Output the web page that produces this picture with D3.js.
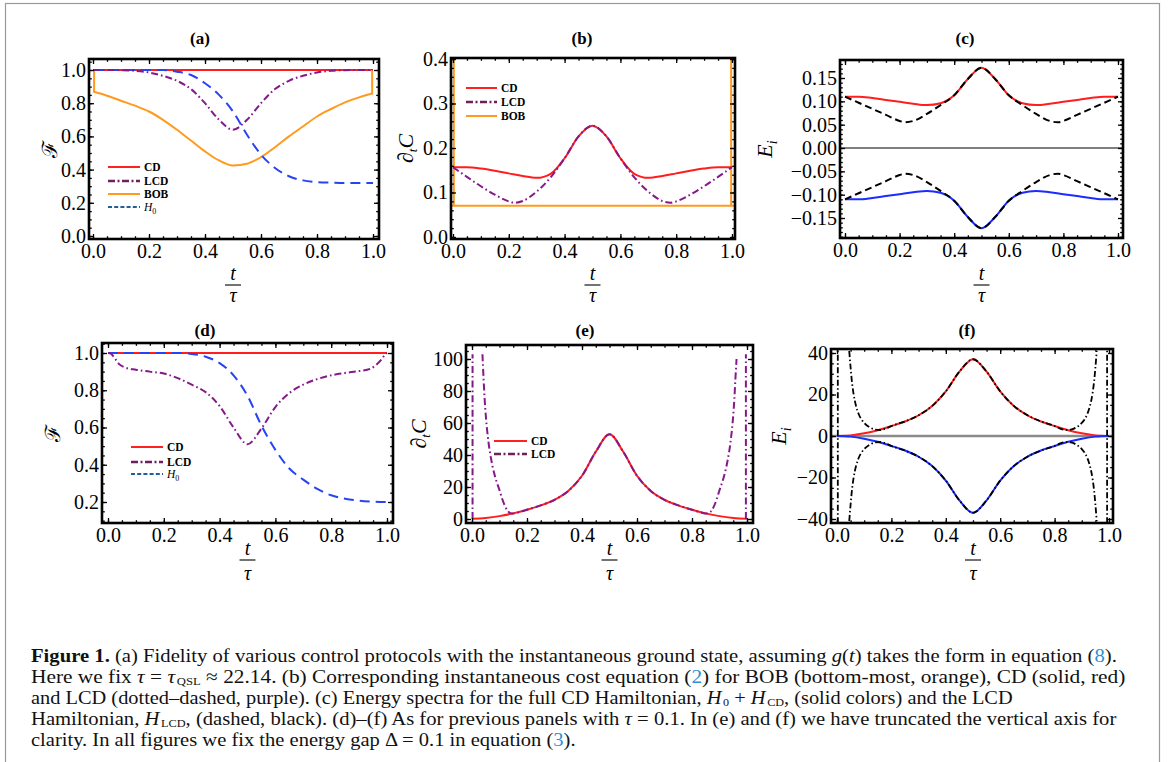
<!DOCTYPE html>
<html>
<head>
<meta charset="utf-8">
<script src="https://cdn.jsdelivr.net/npm/d3@7"></script>
<style>
body { margin: 0; background: #fff; }
svg { display: block; }
</style>
</head>
<body>
<div id="graphCanvas"></div>
<script>
var maxWidth = 1168;
var maxHeight = 762;

// sample times used by most curves (t / tau)
var tGrid = [0, 0.05, 0.1, 0.15, 0.2, 0.25, 0.3, 0.35, 0.4, 0.45, 0.5, 0.55, 0.6, 0.65, 0.7, 0.75, 0.8, 0.85, 0.9, 0.95, 1];

// (a) fidelity, tau = tau_QSL
var fidCD_a = [1, 1, 1, 1, 1, 1, 1, 1, 1, 1, 1, 1, 1, 1, 1, 1, 1, 1, 1, 1, 1];
var fidLCD_a = [1.0, 1.0, 0.999, 0.995, 0.985, 0.965, 0.935, 0.885, 0.80, 0.70, 0.64, 0.70, 0.80, 0.885, 0.935, 0.965, 0.985, 0.995, 0.999, 1.0, 1.0];
var fidBOB_a = [0.87, 0.845, 0.815, 0.785, 0.75, 0.70, 0.64, 0.575, 0.51, 0.455, 0.425, 0.435, 0.475, 0.535, 0.60, 0.66, 0.72, 0.765, 0.805, 0.835, 0.86];
var bobEdge_a = 1.0;
var fidH0_a = [1, 1, 1, 1, 1, 1.0, 0.99, 0.97, 0.92, 0.85, 0.75, 0.61, 0.49, 0.41, 0.36, 0.335, 0.325, 0.322, 0.32, 0.32, 0.32];

// (b) cost
var costCD_b = [0.157, 0.157, 0.154, 0.149, 0.143, 0.137, 0.133, 0.142, 0.177, 0.226, 0.25, 0.226, 0.177, 0.142, 0.133, 0.137, 0.143, 0.149, 0.154, 0.157, 0.157];
var tLCD_b = [0, 0.05, 0.1, 0.15, 0.2, 0.22, 0.25, 0.3, 0.35, 0.4, 0.45, 0.5, 0.55, 0.6, 0.65, 0.7, 0.75, 0.78, 0.8, 0.85, 0.9, 0.95, 1];
var costLCD_b = [0.157, 0.135, 0.114, 0.095, 0.080, 0.077, 0.081, 0.102, 0.134, 0.177, 0.226, 0.25, 0.226, 0.177, 0.134, 0.102, 0.081, 0.077, 0.080, 0.095, 0.114, 0.135, 0.157];
var costBOB_b = 0.07;
var bobEdge_b = 0.42;

// (c) spectra
var eCDup_c = [0.110, 0.110, 0.107, 0.103, 0.099, 0.095, 0.092, 0.096, 0.113, 0.148, 0.172, 0.148, 0.113, 0.096, 0.092, 0.095, 0.099, 0.103, 0.107, 0.110, 0.110];
var eCDdn_c = [-0.110, -0.110, -0.107, -0.103, -0.099, -0.095, -0.092, -0.096, -0.113, -0.148, -0.172, -0.148, -0.113, -0.096, -0.092, -0.095, -0.099, -0.103, -0.107, -0.110, -0.110];
var tLCD_c = [0, 0.05, 0.1, 0.15, 0.2, 0.22, 0.25, 0.3, 0.35, 0.4, 0.45, 0.5, 0.55, 0.6, 0.65, 0.7, 0.75, 0.78, 0.8, 0.85, 0.9, 0.95, 1];
var eLCDup_c = [0.110, 0.097, 0.084, 0.071, 0.058, 0.055, 0.058, 0.073, 0.092, 0.113, 0.148, 0.172, 0.148, 0.113, 0.092, 0.073, 0.058, 0.055, 0.058, 0.071, 0.084, 0.097, 0.110];
var eLCDdn_c = [-0.110, -0.097, -0.084, -0.071, -0.058, -0.055, -0.058, -0.073, -0.092, -0.113, -0.148, -0.172, -0.148, -0.113, -0.092, -0.073, -0.058, -0.055, -0.058, -0.071, -0.084, -0.097, -0.110];

// (d) fidelity, tau = 0.1
var fidCD_d = [1, 1, 1, 1, 1, 1, 1, 1, 1, 1, 1, 1, 1, 1, 1, 1, 1, 1, 1, 1, 1];
var tLCD_d = [0, 0.01, 0.02, 0.03, 0.04, 0.06, 0.1, 0.15, 0.2, 0.25, 0.3, 0.35, 0.4, 0.45, 0.5, 0.55, 0.6, 0.65, 0.7, 0.75, 0.8, 0.85, 0.9, 0.94, 0.96, 0.98, 0.99, 1];
var fidLCD_d = [1.0, 0.997, 0.98, 0.96, 0.94, 0.923, 0.91, 0.9, 0.89, 0.865, 0.83, 0.79, 0.715, 0.60, 0.51, 0.595, 0.71, 0.785, 0.83, 0.86, 0.88, 0.893, 0.903, 0.915, 0.935, 0.965, 0.985, 1.0];
var fidH0_d = [1, 1, 1, 1, 1, 1, 0.995, 0.98, 0.946, 0.88, 0.77, 0.61, 0.48, 0.38, 0.32, 0.27, 0.236, 0.218, 0.207, 0.202, 0.2];

// (e) cost, truncated
var costCD_e = [0.2, 0.7, 1.8, 3.5, 5.8, 8.5, 12, 17.5, 27, 42, 53, 42, 27, 17.5, 12, 8.5, 5.8, 3.5, 1.8, 0.7, 0.2];
var tLCD_e = [0.038, 0.042, 0.046, 0.05, 0.06, 0.07, 0.08, 0.09, 0.1, 0.11, 0.12, 0.13, 0.14, 0.15, 0.16, 0.18, 0.2, 0.25, 0.3, 0.35, 0.4, 0.45, 0.5, 0.55, 0.6, 0.65, 0.7, 0.75, 0.8, 0.82, 0.84, 0.85, 0.86, 0.87, 0.88, 0.89, 0.9, 0.91, 0.92, 0.93, 0.94, 0.95, 0.954, 0.958, 0.962];
var costLCD_e = [103, 88, 75, 65, 48, 37, 29, 23, 18, 12.5, 8, 5, 3.6, 3.4, 3.8, 4.7, 5.8, 8.5, 12, 17.5, 27, 42, 53, 42, 27, 17.5, 12, 8.5, 5.8, 4.7, 3.8, 3.4, 3.6, 5, 8, 12.5, 18, 23, 29, 37, 48, 65, 75, 88, 100];
var tLCDedge_e = [0.002, 0.996];
var costLCDedge_e = [0, 103];

// (f) spectra, truncated
var eCDup_f = [0, 0.3, 1.3, 2.8, 4.8, 7, 10, 14.5, 21.5, 31, 37, 31, 21.5, 14.5, 10, 7, 4.8, 2.8, 1.3, 0.3, 0];
var eCDdn_f = [0, -0.3, -1.3, -2.8, -4.8, -7, -10, -14.5, -21.5, -31, -37, -31, -21.5, -14.5, -10, -7, -4.8, -2.8, -1.3, -0.3, 0];
var tLCD_f = [0.045, 0.05, 0.055, 0.06, 0.07, 0.08, 0.09, 0.1, 0.12, 0.14, 0.16, 0.18, 0.2, 0.25, 0.3, 0.35, 0.4, 0.45, 0.5, 0.55, 0.6, 0.65, 0.7, 0.75, 0.8, 0.82, 0.84, 0.86, 0.88, 0.9, 0.91, 0.92, 0.93, 0.94, 0.945, 0.95, 0.955];
var eLCDup_f = [41, 33, 26, 21, 14.5, 10.5, 8, 6.3, 4.2, 3.1, 2.9, 3.6, 4.8, 7, 10, 14.5, 21.5, 31, 37, 31, 21.5, 14.5, 10, 7, 4.8, 3.6, 2.9, 3.1, 4.2, 6.3, 8, 10.5, 14.5, 21, 26, 33, 41];
var eLCDdn_f = [-41, -33, -26, -21, -14.5, -10.5, -8, -6.3, -4.2, -3.1, -2.9, -3.6, -4.8, -7, -10, -14.5, -21.5, -31, -37, -31, -21.5, -14.5, -10, -7, -4.8, -3.6, -2.9, -3.1, -4.2, -6.3, -8, -10.5, -14.5, -21, -26, -33, -41];
var tLCDedge_f = [0.003, 0.993];
var eLCDedge_f = [-42, 42];

var xTicks = [0, 0.2, 0.4, 0.6, 0.8, 1.0];

var captionLines = [
    [["Figure 1.", "b"], [" (a) Fidelity of various control protocols with the instantaneous ground state, assuming "], ["g", "i"], ["("], ["t", "i"], [") takes the form in equation ("], ["8", "link"], [")."]],
    [["Here we fix "], ["τ", "i"], [" = "], ["τ", "i"], ["QSL", "sub"], [" ≈ 22.14. (b) Corresponding instantaneous cost equation ("], ["2", "link"], [") for BOB (bottom-most, orange), CD (solid, red)"]],
    [["and LCD (dotted–dashed, purple). (c) Energy spectra for the full CD Hamiltonian, "], ["H", "i"], ["0", "sub"], [" + "], ["H", "i"], ["CD", "sub"], [", (solid colors) and the LCD"]],
    [["Hamiltonian, "], ["H", "i"], ["LCD", "sub"], [", (dashed, black). (d)–(f) As for previous panels with "], ["τ", "i"], [" = 0.1. In (e) and (f) we have truncated the vertical axis for"]],
    [["clarity. In all figures we fix the energy gap Δ = 0.1 in equation ("], ["3", "link"], [")."]]
];

var serif = "'Liberation Serif', 'Times New Roman', serif";
var RED = "#ff1d1d", PURPLE = "#86198a", BLUE = "#2743f2", ORANGE = "#ff9a1f";

var svg = d3.select("#graphCanvas").append("svg").attr("width", maxWidth).attr("height", maxHeight);
svg.append("rect").attr("width", maxWidth).attr("height", maxHeight).attr("fill", "#fff");
svg.append("rect").attr("x", 5.5).attr("y", 3.5).attr("width", 1154).attr("height", 800)
    .attr("fill", "none").attr("stroke", "#9a9a9a").attr("stroke-width", 1.2);
var defs = svg.append("defs");

var lineStyles = {
    cd: { stroke: RED, width: 2 },
    lcd: { stroke: PURPLE, width: 2, dash: "7,3,1.6,3" },
    bob: { stroke: ORANGE, width: 2 },
    h0: { stroke: BLUE, width: 2, dash: "10,6" },
    blue: { stroke: "#1a2cff", width: 2 },
    blackDash: { stroke: "#000", width: 2, dash: "7,4" },
    blackDot: { stroke: "#000", width: 1.8, dash: "6,2.5,1.5,2.5" },
    zero: { stroke: "#000", width: 1 },
    zeroGray: { stroke: "#8a8a8a", width: 2.5 }
};

function Panel(p) {
    var f = p.frame;
    var x = d3.scaleLinear().domain([0, 1]).range(p.xRange);
    var y = d3.scaleLinear().domain(p.yDomain).range(p.yRange);
    var g = svg.append("g").attr("class", "panel-" + p.id);

    defs.append("clipPath").attr("id", "clip-" + p.id).append("rect")
        .attr("x", f[0]).attr("y", f[1]).attr("width", f[2] - f[0]).attr("height", f[3] - f[1]);
    var plot = g.append("g").attr("clip-path", "url(#clip-" + p.id + ")");

    var xLo = x.invert(f[0]), xHi = x.invert(f[2]);
    var yLo = y.invert(f[3]), yHi = y.invert(f[1]);
    var xMinor = d3.range(Math.ceil(xLo / 0.05) * 0.05, xHi, 0.05);
    var yMinor = d3.range(Math.ceil(yLo / p.yMinor - 1e-6) * p.yMinor, yHi + 1e-9, p.yMinor);

    function styleAxis(sel) {
        sel.select(".domain").remove();
        sel.selectAll("line").attr("stroke", "#000").attr("stroke-width", 1.3);
        sel.selectAll("text").attr("font-family", serif).attr("font-size", 20).attr("fill", "#000");
    }

    // majors with labels
    g.append("g").attr("transform", "translate(0," + f[3] + ")")
        .call(d3.axisBottom(x).tickValues(xTicks).tickSize(-5).tickPadding(5).tickFormat(d3.format(".1f"))).call(styleAxis);
    g.append("g").attr("transform", "translate(" + f[0] + ",0)")
        .call(d3.axisLeft(y).tickValues(p.yTicks).tickSize(-5).tickPadding(3).tickFormat(d3.format(p.yFmt))).call(styleAxis);
    g.append("g").attr("transform", "translate(0," + f[1] + ")")
        .call(d3.axisTop(x).tickValues(xTicks).tickSize(-5).tickFormat("")).call(styleAxis);
    g.append("g").attr("transform", "translate(" + f[2] + ",0)")
        .call(d3.axisRight(y).tickValues(p.yTicks).tickSize(-5).tickFormat("")).call(styleAxis);
    // minors
    g.append("g").attr("transform", "translate(0," + f[3] + ")")
        .call(d3.axisBottom(x).tickValues(xMinor).tickSize(-2.8).tickFormat("")).call(styleAxis);
    g.append("g").attr("transform", "translate(0," + f[1] + ")")
        .call(d3.axisTop(x).tickValues(xMinor).tickSize(-2.8).tickFormat("")).call(styleAxis);
    g.append("g").attr("transform", "translate(" + f[0] + ",0)")
        .call(d3.axisLeft(y).tickValues(yMinor).tickSize(-2.8).tickFormat("")).call(styleAxis);
    g.append("g").attr("transform", "translate(" + f[2] + ",0)")
        .call(d3.axisRight(y).tickValues(yMinor).tickSize(-2.8).tickFormat("")).call(styleAxis);

    g.append("rect").attr("x", f[0]).attr("y", f[1]).attr("width", f[2] - f[0]).attr("height", f[3] - f[1])
        .attr("fill", "none").attr("stroke", "#000").attr("stroke-width", 2.6);

    // title
    g.append("text").attr("x", p.titleX).attr("y", p.titleY).attr("text-anchor", "middle")
        .attr("font-family", serif).attr("font-weight", "bold").attr("font-size", 17).text(p.title);

    // x label t / tau
    var cx = (p.xRange[0] + p.xRange[1]) / 2;
    g.append("text").attr("x", cx).attr("y", p.barY - 5).attr("text-anchor", "middle")
        .attr("font-family", serif).attr("font-style", "italic").attr("font-size", 20).text("t");
    g.append("line").attr("x1", cx - 8).attr("x2", cx + 8).attr("y1", p.barY).attr("y2", p.barY)
        .attr("stroke", "#000").attr("stroke-width", 1.1);
    g.append("text").attr("x", cx).attr("y", p.barY + p.tauGap).attr("text-anchor", "middle")
        .attr("font-family", serif).attr("font-style", "italic").attr("font-size", 20).text("τ");

    // y label
    var yl = g.append("text").attr("transform", "translate(" + p.yLabelX + "," + ((f[1] + f[3]) / 2) + ") rotate(-90)")
        .attr("text-anchor", "middle").attr("dy", "0.35em").attr("font-family", serif).attr("font-size", 22);
    if (p.yLabel === "F") {
        yl.attr("font-family", "'DejaVu Serif', " + serif).attr("font-size", 21).text("ℱ");
    } else if (p.yLabel === "C") {
        yl.append("tspan").text("∂");
        yl.append("tspan").attr("dy", 4).attr("font-size", 13).attr("font-style", "italic").text("t");
        yl.append("tspan").attr("dy", -4).attr("font-style", "italic").text("C");
    } else {
        yl.append("tspan").attr("font-style", "italic").text("E");
        yl.append("tspan").attr("dy", 5).attr("font-size", 14).attr("font-style", "italic").text("i");
    }

    this.x = x;
    this.y = y;
    this.g = g;
    this.plot = plot;
}

function drawCurve(panel, ts, vs, style, curve) {
    var pts = ts.map(function(t, i) { return [t, vs[i]]; });
    var line = d3.line()
        .x(function(d) { return panel.x(d[0]); })
        .y(function(d) { return panel.y(d[1]); })
        .curve(curve || d3.curveMonotoneX);
    var path = panel.plot.append("path").datum(pts).attr("d", line)
        .attr("fill", "none").attr("stroke", style.stroke).attr("stroke-width", style.width)
        .attr("stroke-linejoin", "round");
    if (style.dash) path.attr("stroke-dasharray", style.dash);
    return path;
}

function drawVertical(panel, t, v0, v1, style) {
    drawCurve(panel, [t, t], [v0, v1], style, d3.curveLinear);
}

function drawLevel(panel, v, style) {
    drawCurve(panel, [-0.1, 1.1], [v, v], style, d3.curveLinear);
}

var legendSymbols = {
    CD: { stroke: "#ff2020", width: 2 },
    LCD: { stroke: "#6e1f5e", width: 2.4, dash: "7,2.5,2,2.5" },
    BOB: { stroke: ORANGE, width: 2 },
    H0: { stroke: "#1f5f9f", width: 2.2, dash: "4,2.2" }
};

function legend(panel, items, x0, x1, ys) {
    items.forEach(function(name, i) {
        var s = legendSymbols[name];
        var ln = panel.g.append("line").attr("x1", x0).attr("x2", x1).attr("y1", ys[i]).attr("y2", ys[i])
            .attr("stroke", s.stroke).attr("stroke-width", s.width);
        if (s.dash) ln.attr("stroke-dasharray", s.dash);
        var tx = panel.g.append("text").attr("x", x1 + 4).attr("y", ys[i] + 4)
            .attr("font-family", serif).attr("font-size", 11.5);
        if (name === "H0") {
            tx.append("tspan").attr("font-style", "italic").text("H");
            tx.append("tspan").attr("font-size", 8).attr("dy", 2.5).text("0");
        } else {
            tx.attr("font-weight", "bold").text(name);
        }
    });
}

// ---- (a)
var pa = new Panel({ id: "a", title: "(a)", titleX: 200, titleY: 44, frame: [89, 59, 379, 239],
    xRange: [93, 373], yDomain: [0, 1], yRange: [236, 70], yTicks: [0, 0.2, 0.4, 0.6, 0.8, 1.0],
    yMinor: 0.05, yFmt: ".1f", yLabel: "F", yLabelX: 50, barY: 285, tauGap: 17 });
drawCurve(pa, tGrid, fidCD_a, lineStyles.cd);
drawVertical(pa, 0.004, bobEdge_a, fidBOB_a[0], lineStyles.bob);
drawVertical(pa, 0.997, fidBOB_a[fidBOB_a.length - 1], bobEdge_a, lineStyles.bob);
drawCurve(pa, tGrid, fidBOB_a, lineStyles.bob);
drawCurve(pa, tGrid, fidH0_a, lineStyles.h0);
drawCurve(pa, tGrid, fidLCD_a, lineStyles.lcd);
legend(pa, ["CD", "LCD", "BOB", "H0"], 108, 140, [167, 181, 194, 207]);

// ---- (b)
var pb = new Panel({ id: "b", title: "(b)", titleX: 582, titleY: 44, frame: [451, 58, 735, 239],
    xRange: [453, 732], yDomain: [0, 0.4], yRange: [237, 59], yTicks: [0, 0.1, 0.2, 0.3, 0.4],
    yMinor: 0.02, yFmt: ".1f", yLabel: "C", yLabelX: 405, barY: 285, tauGap: 17 });
drawVertical(pb, 0.003, bobEdge_b, costBOB_b, lineStyles.bob);
drawVertical(pb, 0.997, costBOB_b, bobEdge_b, lineStyles.bob);
drawLevel(pb, costBOB_b, lineStyles.bob);
drawCurve(pb, tGrid, costCD_b, lineStyles.cd);
drawCurve(pb, tLCD_b, costLCD_b, lineStyles.lcd);
legend(pb, ["CD", "LCD", "BOB"], 466, 497, [88, 102, 116]);

// ---- (c)
var pc = new Panel({ id: "c", title: "(c)", titleX: 965, titleY: 44, frame: [840, 60, 1123, 238],
    xRange: [845, 1118], yDomain: [-0.15, 0.15], yRange: [218, 78],
    yTicks: [-0.15, -0.1, -0.05, 0, 0.05, 0.1, 0.15], yMinor: 0.01, yFmt: ".2f", yLabel: "E", yLabelX: 764, barY: 285, tauGap: 17 });
drawLevel(pc, 0, lineStyles.zero);
drawCurve(pc, tGrid, eCDup_c, lineStyles.cd);
drawCurve(pc, tGrid, eCDdn_c, lineStyles.blue);
drawCurve(pc, tLCD_c, eLCDup_c, lineStyles.blackDash);
drawCurve(pc, tLCD_c, eLCDdn_c, lineStyles.blackDash);

// ---- (d)
var pd = new Panel({ id: "d", title: "(d)", titleX: 205, titleY: 336, frame: [102, 343, 393, 523],
    xRange: [108, 387], yDomain: [0.2, 1], yRange: [502, 353], yTicks: [0.2, 0.4, 0.6, 0.8, 1.0],
    yMinor: 0.05, yFmt: ".1f", yLabel: "F", yLabelX: 53, barY: 560, tauGap: 20 });
drawCurve(pd, tGrid, fidCD_d, lineStyles.cd);
drawCurve(pd, tGrid, fidH0_d, lineStyles.h0);
drawCurve(pd, tLCD_d, fidLCD_d, lineStyles.lcd);
legend(pd, ["CD", "LCD", "H0"], 131, 163, [447, 462, 474]);

// ---- (e)
var pe = new Panel({ id: "e", title: "(e)", titleX: 585, titleY: 336, frame: [466, 345, 753, 523],
    xRange: [472, 747], yDomain: [0, 100], yRange: [519, 359], yTicks: [0, 20, 40, 60, 80, 100],
    yMinor: 5, yFmt: "d", yLabel: "C", yLabelX: 418, barY: 560, tauGap: 20 });
drawCurve(pe, tGrid, costCD_e, lineStyles.cd);
drawVertical(pe, tLCDedge_e[0], costLCDedge_e[0], costLCDedge_e[1], lineStyles.lcd);
drawVertical(pe, tLCDedge_e[1], costLCDedge_e[0], costLCDedge_e[1], lineStyles.lcd);
drawCurve(pe, tLCD_e, costLCD_e, lineStyles.lcd);
legend(pe, ["CD", "LCD"], 494, 527, [441, 454]);

// ---- (f)
var pf = new Panel({ id: "f", title: "(f)", titleX: 967, titleY: 336, frame: [831, 349, 1113, 523],
    xRange: [837, 1109], yDomain: [-40, 40], yRange: [519, 353], yTicks: [-40, -20, 0, 20, 40],
    yMinor: 5, yFmt: "d", yLabel: "E", yLabelX: 778, barY: 560, tauGap: 20 });
drawLevel(pf, 0, lineStyles.zeroGray);
drawCurve(pf, tGrid, eCDup_f, lineStyles.cd);
drawCurve(pf, tGrid, eCDdn_f, lineStyles.blue);
drawVertical(pf, tLCDedge_f[0], eLCDedge_f[0], eLCDedge_f[1], lineStyles.blackDot);
drawVertical(pf, tLCDedge_f[1], eLCDedge_f[0], eLCDedge_f[1], lineStyles.blackDot);
drawCurve(pf, tLCD_f, eLCDup_f, lineStyles.blackDot);
drawCurve(pf, tLCD_f, eLCDdn_f, lineStyles.blackDot);

// ---- caption: set in serif, then squeezed sideways to the printed width
var captionEnds = [1117, 1124, 1010, 1115, 576];
var captionY = [662, 683, 704, 725, 746];
captionLines.forEach(function(segs, i) {
    var holder = svg.append("g");
    var tx = holder.append("text").attr("x", 0).attr("y", 0)
        .attr("font-family", serif).attr("font-size", 18.5).attr("fill", "#111");
    var down = false;
    segs.forEach(function(s) {
        var ts = tx.append("tspan").text(s[0]);
        if (down && s[1] !== "sub") { ts.attr("dy", -2); down = false; }
        if (s[1] === "b") ts.attr("font-weight", "bold");
        if (s[1] === "i") ts.attr("font-style", "italic");
        if (s[1] === "link") ts.attr("fill", "#2a92d2");
        if (s[1] === "sub") {
            ts.attr("font-size", 11).attr("dx", 1.5);
            if (!down) { ts.attr("dy", 2); down = true; }
        }
    });
    var natural = tx.node().getComputedTextLength();
    var k = (captionEnds[i] - 31) / natural;
    holder.attr("transform", "translate(31," + captionY[i] + ") scale(" + k + ",1)");
});
</script>
</body>
</html>
